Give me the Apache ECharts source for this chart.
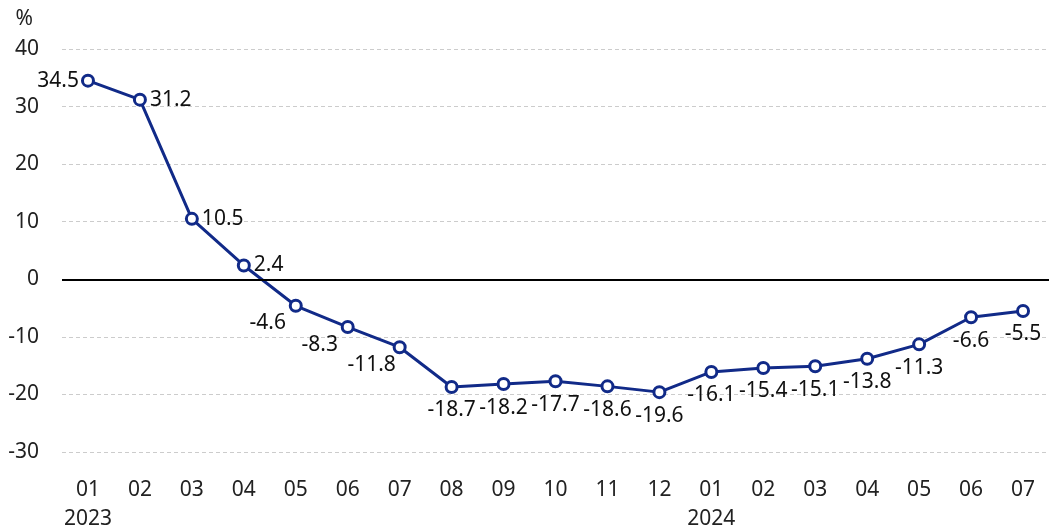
<!DOCTYPE html>
<html>
<head>
<meta charset="utf-8">
<script src="https://cdn.jsdelivr.net/npm/echarts@6/dist/echarts.min.js"></script>
<style>
  html, body { margin: 0; padding: 0; background: #fff; }
  #main { width: 1050px; height: 528px; }
</style>
</head>
<body>
<div id="main"></div>
<script>
// 数据
var months = ['01\n2023', '02', '03', '04', '05', '06', '07', '08', '09', '10', '11', '12',
  '01\n2024', '02', '03', '04', '05', '06', '07'];
var values = [34.5, 31.2, 10.5, 2.4, -4.6, -8.3, -11.8, -18.7, -18.2, -17.7, -18.6, -19.6,
  -16.1, -15.4, -15.1, -13.8, -11.3, -6.6, -5.5];
var yTicks = [-30, -20, -10, 0, 10, 20, 30, 40];

var font = 'Noto Sans, sans-serif';

// 每个点标签的位置
function labelFor(i) {
  if (i === 0) return { position: 'left', distance: 2 };
  if (i >= 1 && i <= 3) return { position: 'right', distance: 3 };
  if (i >= 4 && i <= 6) return { position: 'bottom', distance: 0, offset: [-28, 0] };
  return { position: 'bottom', distance: 6 };
}

var seriesData = values.map(function (v, i) {
  return { value: v, label: labelFor(i) };
});

var myChart = echarts.init(document.getElementById('main'));

var option = {
  animation: false,
  textStyle: { fontFamily: font },
  grid: { left: 62, right: 1, top: 49, bottom: 76, containLabel: false, outerBoundsMode: 'none' },
  xAxis: {
    type: 'category',
    data: months,
    axisLine: { show: false },
    axisTick: { show: false },
    axisLabel: {
      color: '#222',
      fontSize: 21,
      fontFamily: font,
      margin: 24,
      lineHeight: 29,
      interval: 0
    }
  },
  yAxis: {
    type: 'value',
    min: yTicks[0],
    max: yTicks[yTicks.length - 1],
    interval: 10,
    name: '%',
    nameLocation: 'end',
    nameGap: 19,
    nameTextStyle: { color: '#222', fontSize: 21, fontFamily: font, align: 'right', padding: [0, 29, 0, 0] },
    axisLine: { show: false },
    axisTick: { show: false },
    axisLabel: { color: '#222', fontSize: 21, fontFamily: font, margin: 23 },
    splitLine: { lineStyle: { color: '#cccccc', type: [4, 3], width: 1 } }
  },
  series: [{
    type: 'line',
    data: seriesData,
    symbol: 'circle',
    symbolSize: 11,
    lineStyle: { color: '#112a88', width: 3 },
    itemStyle: { color: '#ffffff', borderColor: '#112a88', borderWidth: 3 },
    label: {
      show: true,
      color: '#111',
      fontSize: 21,
      fontFamily: font
    },
    markLine: {
      silent: true,
      symbol: ['none', 'none'],
      label: { show: false },
      lineStyle: { color: '#000', type: 'solid', width: 2 },
      data: [{ yAxis: 0 }]
    },
    z: 3
  }]
};

myChart.setOption(option);
</script>
</body>
</html>
